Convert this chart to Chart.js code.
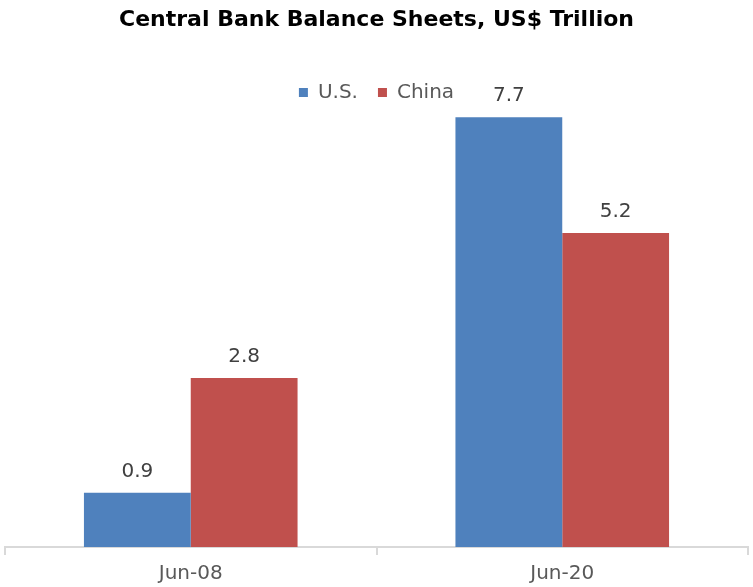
<!DOCTYPE html>
<html>
<head>
<meta charset="utf-8">
<script src="https://cdn.jsdelivr.net/npm/chart.js@4"></script>
<style>
  body { margin: 0; background: #fff; }
</style>
</head>
<body>
<canvas id="myChart" width="753" height="587"></canvas>
<script>
const categories = ["Jun-08", "Jun-20"];
const seriesNames = ["U.S.", "China"];
// bar heights
const usValues = [0.9, 7.12];
const chinaValues = [2.8, 5.2];
// value labels as printed above the bars
const usLabels = ["0.9", "7.7"];
const chinaLabels = ["2.8", "5.2"];

const blue = "#4F81BD";
const red = "#C0504D";
const fontName = "'DejaVu Sans', Verdana, sans-serif";

let canvas = document.getElementById("myChart");

const valueLabels = {
  id: "valueLabels",
  afterDatasetsDraw(chart) {
    const ctx = chart.ctx;
    const texts = [usLabels, chinaLabels];
    ctx.save();
    ctx.font = "20px " + fontName;
    ctx.fillStyle = "#404040";
    ctx.textAlign = "center";
    ctx.textBaseline = "middle";
    chart.data.datasets.forEach((ds, i) => {
      chart.getDatasetMeta(i).data.forEach((bar, j) => {
        ctx.fillText(texts[i][j], bar.x, bar.y - 21);
      });
    });
    ctx.restore();
  }
};

let chart = new Chart(canvas, {
  type: "bar",
  data: {
    labels: categories,
    datasets: [
      {
        label: seriesNames[0],
        data: usValues,
        backgroundColor: blue,
        borderWidth: 0,
        barPercentage: 1,
        categoryPercentage: 0.575,
      },
      {
        label: seriesNames[1],
        data: chinaValues,
        backgroundColor: red,
        borderWidth: 0,
        barPercentage: 1,
        categoryPercentage: 0.575,
      },
    ],
  },
  options: {
    responsive: false,
    animation: false,
    layout: { padding: { left: 5, right: 5, top: 0, bottom: 0 } },
    plugins: {
      title: {
        display: true,
        text: "Central Bank Balance Sheets, US$ Trillion",
        color: "#000",
        font: { family: fontName, size: 22, weight: "bold" },
        padding: { top: 7, bottom: 29 },
      },
      legend: {
        display: true,
        position: "top",
        labels: {
          boxWidth: 9,
          boxHeight: 9,
          padding: 20,
          color: "#595959",
          font: { family: fontName, size: 20 },
        },
      },
      tooltip: { enabled: false },
    },
    scales: {
      x: {
        afterFit(scale) { scale.height = 40; },
        grid: {
          display: true,
          offset: true,
          drawOnChartArea: false,
          drawTicks: true,
          tickLength: 8,
          color: "#d9d9d9",
          lineWidth: 2,
        },
        border: { display: true, color: "#d9d9d9", width: 2 },
        ticks: {
          color: "#595959",
          font: { family: fontName, size: 20 },
          padding: 7,
        },
      },
      y: {
        display: false,
        min: 0,
        max: 7.2,
      },
    },
  },
  plugins: [valueLabels],
});
</script>
</body>
</html>
